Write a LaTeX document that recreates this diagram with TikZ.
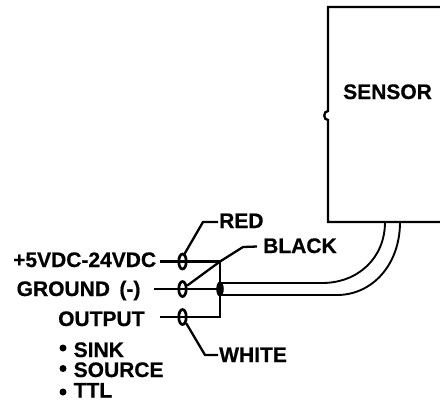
\documentclass[tikz,border=0pt]{standalone}
\usepackage{fontspec}
\setmainfont{Liberation Sans}[BoldFont={Liberation Sans Bold},BoldFeatures={FakeBold=0.6}]
\newcommand{\lbl}{\fontsize{21bp}{22bp}\selectfont\bfseries}
\usetikzlibrary{shapes.geometric}
\tikzset{
  wire/.style={line width=2.3bp,black},
  txt/.style={inner sep=0pt,font=\lbl,anchor=base west,text=black},
  clamp/.style={ellipse,draw=black,line width=2.7bp,minimum width=7.5bp,minimum height=15bp,inner sep=0pt},
  joint/.style={ellipse,fill=black,minimum width=7.5bp,minimum height=15bp,inner sep=0pt}
}
\begin{document}
\begin{tikzpicture}[x=1bp,y=-1bp]
\useasboundingbox (0,0) rectangle (440,400);
\fill[white] (0,0) rectangle (440,400);
% sensor housing
\coordinate (bxtr) at (440,7);
\coordinate (bxtl) at (328,7);
\coordinate (bxbl) at (328,222);
\coordinate (bxbr) at (440,222);
\draw[wire] (bxtr) -- (bxtl) -- (328,111) .. controls (323,111) and (323,120) .. (328,120) -- (bxbl) -- (bxbr);
\node[txt] (sensor) at (343,99) {SENSOR};
% cable
\coordinate (busmid) at (220,289);
\coordinate (cu) at (385,222);
\coordinate (cl) at (400,222);
\draw[wire,line width=1.9bp] (220,283) -- (322,283) .. controls (358,283) and (385,258) .. (cu);
\draw[wire,line width=1.9bp] (220,295) -- (337,295) .. controls (372,295) and (400,265) .. (cl);
% bus
\coordinate (bt) at (220,261.5);
\coordinate (bb) at (220,317);
\node[txt] (supply) at (13,267) {+5VDC-24VDC};
\node[txt] (ground) at (16.5,296) {GROUND\hspace{0.45em}(-)};
\node[txt] (output) at (58,326) {OUTPUT};
\coordinate (s1) at (160,261.5);
\coordinate (s2) at (154,289);
\coordinate (s3) at (160,317);
\draw[wire] (s1) -- (bt) -- (bb) -- (s3);
\draw[wire] (s2) -- (busmid);
\node[joint] (junction) at (busmid) {};
\node[clamp] (c1) at (182.5,261.5) {};
\node[clamp] (c2) at (182.5,289) {};
\node[clamp] (c3) at (182.5,317) {};
% leaders
\node[txt] (red) at (219,228) {RED};
\node[txt] (black) at (263,253) {BLACK};
\node[txt] (white) at (219,362) {WHITE};
\coordinate (redl) at (203,222);
\coordinate (blk1) at (243,247);
\coordinate (blk2) at (257,246.5);
\coordinate (whl) at (205,355);
\draw[wire] (c1.north) ++(1,3) -- (redl) -- (218,222);
\draw[wire] (c2) -- (bt) -- (blk1) -- (blk2);
\draw[wire] (c3) -- (whl) -- (218,355);
% list
\node[txt] (sink) at (73.5,357) {SINK};
\node[txt] (source) at (73.5,377) {SOURCE};
\node[txt] (ttl) at (73.5,397.5) {TTL};
\fill (63,348) circle (3.5bp) (63,368.5) circle (3.5bp) (63,392) circle (3.5bp);
\end{tikzpicture}
\end{document}
